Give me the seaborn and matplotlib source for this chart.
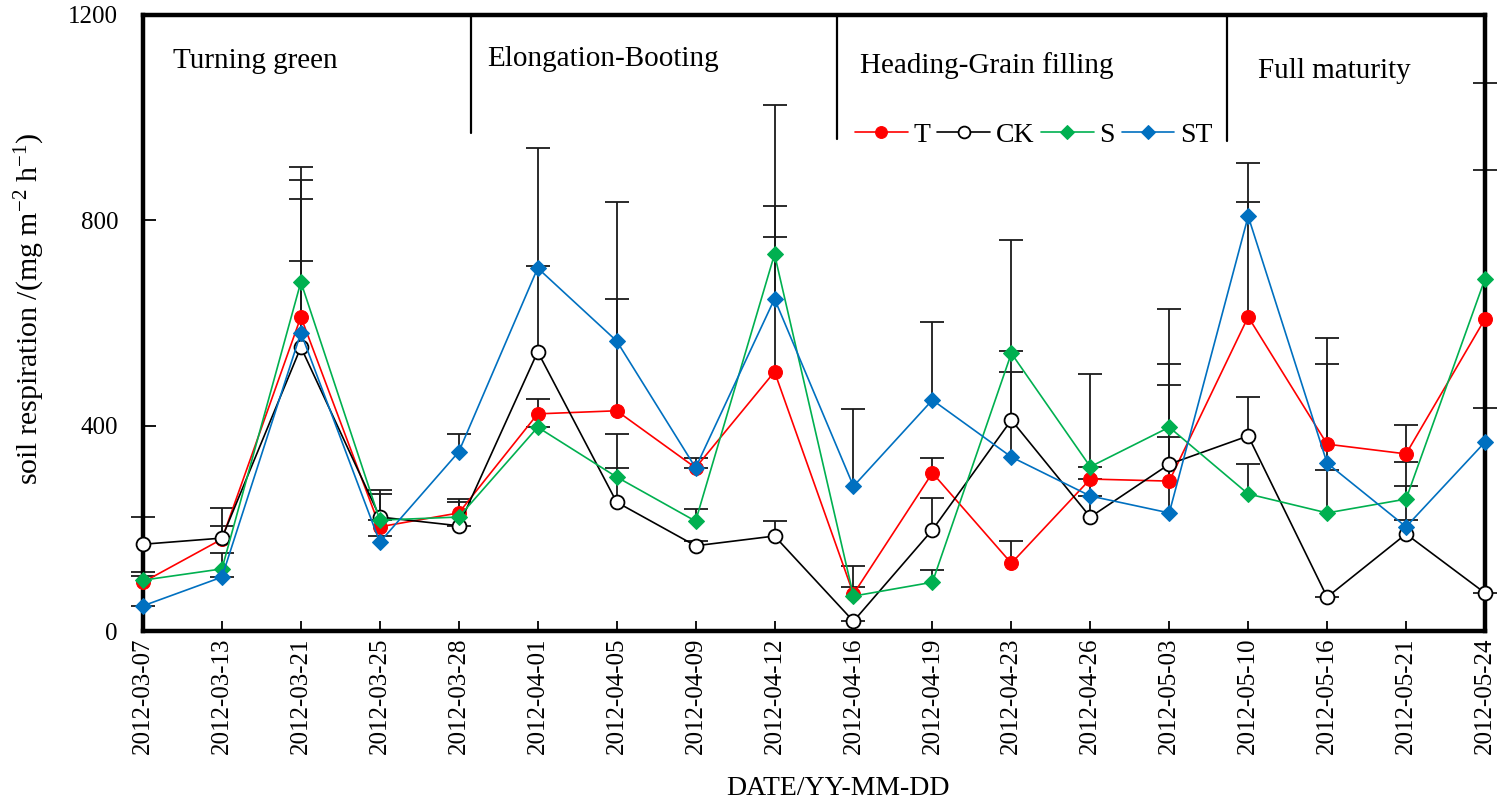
import numpy as np
import pandas as pd
import matplotlib
matplotlib.use("Agg")
import matplotlib.pyplot as plt
import seaborn as sns

dates = ["2012-03-07", "2012-03-13", "2012-03-21", "2012-03-25", "2012-03-28",
         "2012-04-01", "2012-04-05", "2012-04-09", "2012-04-12", "2012-04-16",
         "2012-04-19", "2012-04-23", "2012-04-26", "2012-05-03", "2012-05-10",
         "2012-05-16", "2012-05-21", "2012-05-24"]

T = [95, 179, 612, 203, 230, 423, 429, 318, 505, 72, 308, 132, 296, 292, 612, 364, 345, 608]
CK = [169, 181, 553, 222, 205, 544, 251, 166, 185, 19, 197, 411, 222, 325, 380, 66, 189, 74]
S = [99, 121, 680, 216, 222, 397, 300, 214, 734, 68, 95, 541, 320, 397, 267, 230, 257, 686]
ST = [49, 105, 581, 173, 349, 707, 565, 318, 647, 282, 450, 339, 263, 230, 808, 327, 203, 368]

# upper standard errors
T_err = [12, 26, 267, 64, 27, 29, 218, 0, 520, 55, 29, 43, 0, 335, 300, 156, 56, 290]
CK_err = [53, 59, 168, 53, 0, 397, 133, 9, 29, 0, 62, 351, 278, 195, 76, 0, 27, 0]
S_err = [16, 31, 224, 0, 29, 0, 18, 24, 34, 18, 24, 4, 0, 82, 58, 84, 72, 381]
ST_err = [0, 0, 261, 12, 35, 5, 271, 19, 181, 151, 152, 166, 0, 148, 28, 244, 80, 66]

stages = ["Turning green", "Elongation-Booting", "Heading-Grain filling", "Full maturity"]

sns.set_theme(style="white")
plt.rcParams["font.family"] = ["Liberation Serif", "DejaVu Serif"]
plt.rcParams["mathtext.fontset"] = "custom"
plt.rcParams["mathtext.rm"] = "Liberation Serif"
plt.rcParams["mathtext.it"] = "Liberation Serif:italic"
for key in ["text.color", "axes.labelcolor", "xtick.color", "ytick.color"]:
    plt.rcParams[key] = "black"

fig = plt.figure(figsize=(15.08, 7.99), dpi=100)
ax = fig.add_axes([143 / 1508, 1 - 631 / 799, (1485 - 143) / 1508, (631 - 15) / 799])

pos = np.arange(len(dates))
series = [
    ("T", T, T_err, dict(color="#FF0000", marker="o", markersize=10,
                         markerfacecolor="#FF0000", markeredgecolor="#FF0000")),
    ("CK", CK, CK_err, dict(color="#000000", marker="o", markersize=10,
                            markerfacecolor="white", markeredgecolor="#000000",
                            markeredgewidth=1.3)),
    ("S", S, S_err, dict(color="#00B050", marker="D", markersize=8,
                         markerfacecolor="#00B050", markeredgecolor="#00B050")),
    ("ST", ST, ST_err, dict(color="#0070C0", marker="D", markersize=8,
                            markerfacecolor="#0070C0", markeredgecolor="#0070C0")),
]

# upper error bars only, drawn beneath the markers
for name, vals, err, st in series:
    eb = ax.errorbar(pos, vals, yerr=[np.zeros(len(err)), err], fmt="none",
                     ecolor="#1a1a1a", elinewidth=1.3, capsize=8.5, capthick=1.3,
                     zorder=2, clip_on=False)
    caps = eb.lines[1]
    if len(caps) == 2:
        caps[0].set_visible(False)

for i, (name, vals, err, st) in enumerate(series):
    df = pd.DataFrame({"pos": pos, "value": vals})
    sns.lineplot(data=df, x="pos", y="value", ax=ax, label=name, linewidth=1.2,
                 zorder=3 + i, clip_on=False, **st)

ax.set_xlim(0, len(dates) - 1)
ax.set_ylim(0, 1200)
ax.set_yticks([0, 400, 800, 1200])
ax.set_xticks(pos)
ax.set_xticklabels(dates, rotation=90, fontsize=18)
ax.tick_params(axis="y", labelsize=18, direction="in", length=9, width=1.3, pad=18,
               left=True, right=False)
ax.tick_params(axis="x", direction="in", length=7, width=1.3, pad=5, bottom=True, top=False)

for sp in ax.spines.values():
    sp.set_linewidth(3.2)
    sp.set_color("black")

ax.set_xlabel("DATE/YY-MM-DD", fontsize=20)
ax.xaxis.set_label_coords((838 - 143) / 1342, -(776 - 631) / 616)
ax.set_ylabel(r"soil respiration /(mg m$^{\mathregular{-2}}$ h$^{\mathregular{-1}}$)",
              fontsize=21.5, va="center")
ax.yaxis.set_label_coords(-(143 - 30) / 1342, (631 - 309) / 616)

# growth stage dividers and names
for xv, ylow in [(4.155, 970), (8.79, 958), (13.73, 955)]:
    ax.axvline(xv, ymin=ylow / 1200, ymax=1, color="black", linewidth=1.6, zorder=1)

stage_pos = [(0.38, 1097), (4.36, 1100), (9.08, 1087), (14.12, 1077)]
for label, (xs, ys) in zip(stages, stage_pos):
    ax.text(xs, ys, label, fontsize=21, ha="left", va="baseline")

leg = ax.legend(loc="center left", bbox_to_anchor=((855 - 143) / 1342, (631 - 135) / 616),
                ncol=4, frameon=False, fontsize=20, handlelength=1.9, handletextpad=0.2,
                columnspacing=0.25, borderpad=0, borderaxespad=0, markerscale=0.85)

fig.savefig("out.png", dpi=100)
